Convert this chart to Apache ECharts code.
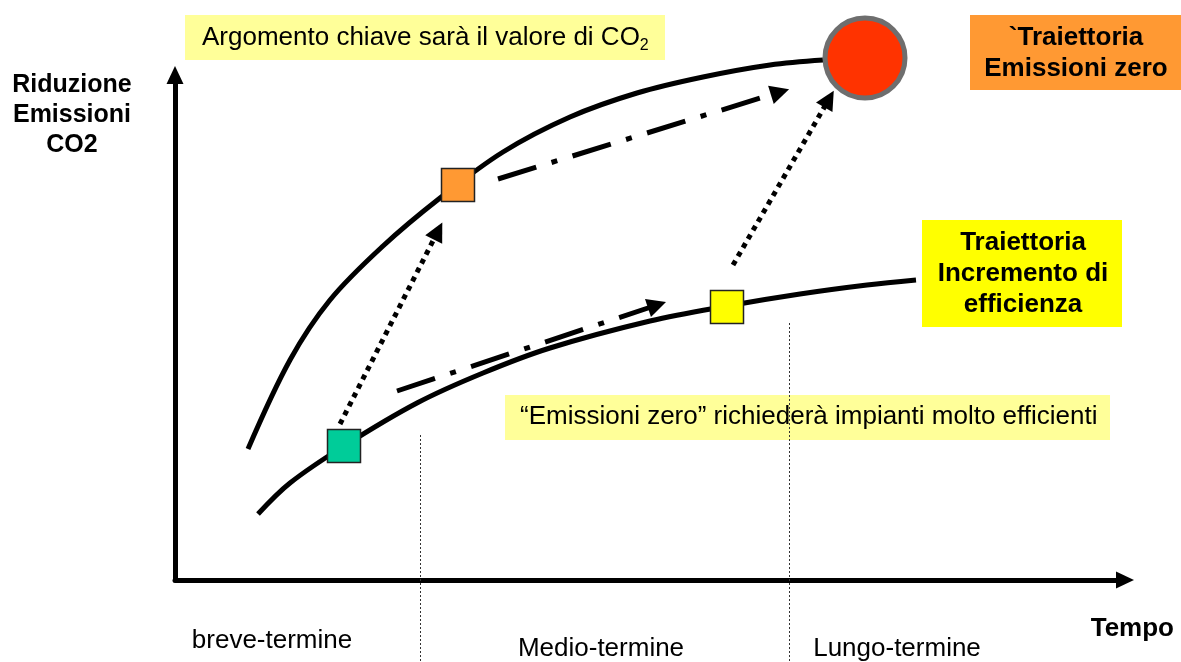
<!DOCTYPE html>
<html><head><meta charset="utf-8">
<script src="https://cdn.jsdelivr.net/npm/echarts@6/dist/echarts.min.js"></script>
<style>html,body{margin:0;padding:0;background:#fff}#c{width:1181px;height:662px}</style>
</head><body><div id="c"></div>
<script>
// ---- data (x: time, y: CO2 emission reduction; conceptual units) ----
const upperCurve = [[7.3,26.2],[11.5,44],[15.5,56],[20.8,66.8],[26.5,76.4],[32.8,85.6],[39.5,92.6],[46.2,97.4],[52.8,100.6],[59.5,103],[64.8,104]];
const lowerCurve = [[8.3,13.2],[11.5,19.4],[16.9,26.8],[24.2,35.4],[30.8,41.4],[37.5,46.4],[47.5,51.8],[55.2,54.8],[62.5,57.2],[69.2,59],[74.1,60]];
const stageNames = ['Breve', 'Medio (emissioni zero)', 'Medio (efficienza)'];
const stageX = [16.9, 28.3, 55.2];
const stageY = [26.8, 79, 54.6];
const targetPoint = [69, 104.4];
const dashDotArrows = [[[32.3,80.2],[60.5,97.6]], [[22.2,37.8],[48.2,55]]];
const dottedArrows = [[[16.5,31.2],[26.3,69.8]], [[55.8,63],[65.4,96.2]]];
const phaseDividerX = [24.5, 61.4];
const phaseDividerTop = [29, 51.4];
const phaseLabels = ['breve-termine', 'Medio-termine', 'Lungo-termine'];
const phaseLabelX = [9.7, 42.6, 72.2];
const phaseLabelY = [-12.2, -13.8, -13.8];

const stageColors = ['#00CC99', '#FF9933', '#FFFF00'];
const FONT = '"Liberation Sans", Arial, sans-serif';
const shadow = {textShadowColor: 'rgba(0,0,0,0.22)', textShadowOffsetX: 1, textShadowOffsetY: 1, textShadowBlur: 0};

const chart = echarts.init(document.getElementById('c'), null, {renderer: 'canvas'});
const bottomY = -16.4;

chart.setOption({
  animation: false,
  backgroundColor: '#fff',
  grid: {left: 175, right: 56, top: 75, bottom: 82},
  xAxis: {
    type: 'value', min: 0, max: 95,
    axisLine: {show: true, lineStyle: {color: '#000', width: 5}, symbol: ['none', 'triangle'], symbolSize: [17, 18]},
    axisTick: {show: false}, axisLabel: {show: false}, splitLine: {show: false}
  },
  yAxis: {
    type: 'value', min: 0, max: 101,
    axisLine: {show: true, lineStyle: {color: '#000', width: 5}, symbol: ['none', 'triangle'], symbolSize: [17, 18]},
    axisTick: {show: false}, axisLabel: {show: false}, splitLine: {show: false}
  },
  series: [
    {type: 'lines', coordinateSystem: 'cartesian2d', clip: false, z: 1,
     lineStyle: {color: '#333', width: 1, type: [2, 2], opacity: 1},
     data: phaseDividerX.map((x, i) => ({coords: [[x, phaseDividerTop[i]], [x, bottomY]]}))},
    {type: 'line', data: upperCurve, smooth: 0.35, showSymbol: false, clip: false, z: 2,
     lineStyle: {color: '#000', width: 5}},
    {type: 'line', data: lowerCurve, smooth: 0.35, showSymbol: false, clip: false, z: 2,
     lineStyle: {color: '#000', width: 5}},
    {type: 'lines', coordinateSystem: 'cartesian2d', clip: false, z: 3,
     symbol: ['none', 'triangle'], symbolSize: 19,
     lineStyle: {color: '#000', width: 5, type: [40, 16, 6, 16], opacity: 1, cap: 'butt'},
     data: dashDotArrows.map(c => ({coords: c}))},
    {type: 'lines', coordinateSystem: 'cartesian2d', clip: false, z: 3,
     symbol: ['none', 'triangle'], symbolSize: 19,
     lineStyle: {color: '#000', width: 5, type: [5, 5], opacity: 1, cap: 'butt'},
     data: dottedArrows.map(c => ({coords: c}))},
    {type: 'scatter', symbol: 'rect', symbolSize: 33, clip: false, z: 5,
     data: stageNames.map((n, i) => ({name: n, value: [stageX[i], stageY[i]],
       itemStyle: {color: stageColors[i], borderColor: '#222', borderWidth: 1.5, opacity: 1}}))},
    {type: 'scatter', symbol: 'circle', symbolSize: 80, clip: false, z: 5,
     data: [{name: 'Emissioni zero', value: targetPoint}],
     itemStyle: {color: '#FF3300', borderColor: '#6E6E6E', borderWidth: 5, opacity: 1}},
    {type: 'scatter', symbolSize: 0, clip: false, z: 5,
     itemStyle: {opacity: 1},
     data: phaseLabels.map((n, i) => ({name: n, value: [phaseLabelX[i], phaseLabelY[i]]})),
     label: {show: true, position: 'inside', formatter: '{b}', color: '#000', fontSize: 26, fontFamily: FONT}}
  ],
  graphic: [
    {type: 'text', x: 72, y: 70, style: {text: 'Riduzione\nEmissioni\nCO2', font: 'bold 25px ' + FONT, fill: '#000', align: 'center', lineHeight: 30}},
    {type: 'text', x: 1174, y: 616, style: {text: 'Tempo', font: 'bold 26px ' + FONT, fill: '#000', align: 'right'}},
    {type: 'rect', shape: {x: 185, y: 15, width: 480, height: 45}, style: {fill: '#FFFF99'}, z: 0},
    {type: 'text', x: 202, y: 22, z: 10, style: {
      text: '{a|Argomento chiave sarà il valore di CO}{s|2}',
      rich: {a: Object.assign({fontSize: 26, fontFamily: FONT, lineHeight: 30, fill: '#000'}, shadow),
             s: {fontSize: 16, fontFamily: FONT, lineHeight: 32, verticalAlign: 'bottom', fill: '#000'}}}},
    {type: 'rect', shape: {x: 970, y: 15, width: 211, height: 75}, style: {fill: '#FF9933'}, z: 0},
    {type: 'text', x: 1076, y: 22, z: 10, style: {text: '`Traiettoria\nEmissioni zero', font: 'bold 26px ' + FONT, fill: '#000', align: 'center', lineHeight: 31}},
    {type: 'rect', shape: {x: 922, y: 220, width: 200, height: 107}, style: {fill: '#FFFF00'}, z: 0},
    {type: 'text', x: 1023, y: 227, z: 10, style: {text: 'Traiettoria\nIncremento di\nefficienza', font: 'bold 26px ' + FONT, fill: '#000', align: 'center', lineHeight: 31}},
    {type: 'rect', shape: {x: 505, y: 395, width: 605, height: 45}, style: {fill: '#FFFF99'}, z: 0},
    {type: 'text', x: 520, y: 402, z: 10, style: Object.assign({text: '\u201CEmissioni zero\u201D richiederà impianti molto efficienti', font: '26px ' + FONT, fill: '#000', lineHeight: 30}, shadow)}
  ]
});
</script></body></html>
